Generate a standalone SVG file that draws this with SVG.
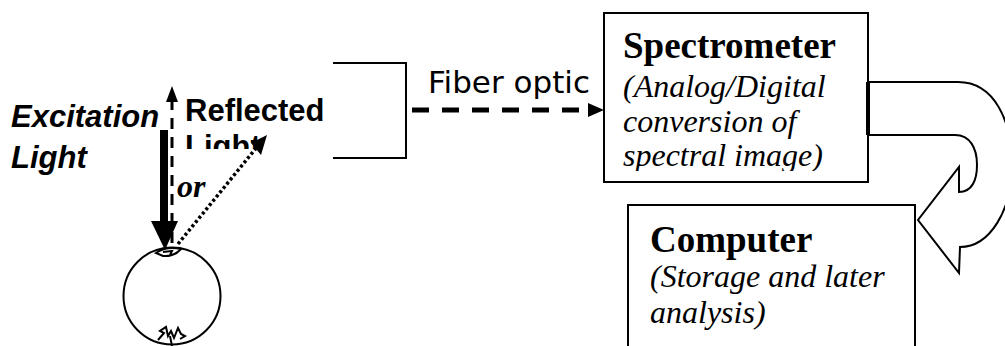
<svg xmlns="http://www.w3.org/2000/svg" width="1005" height="346" viewBox="0 0 1005 346">
<style>
.box{fill:#fff;stroke:#000;stroke-width:2}
.ln{fill:none;stroke:#000;stroke-width:2}
.sb{font-family:"Liberation Sans",Arial,sans-serif;font-weight:bold;font-size:31px}
.sbi{font-family:"Liberation Sans",Arial,sans-serif;font-weight:bold;font-style:italic;font-size:31px}
.tb{font-family:"Liberation Serif","Times New Roman",serif;font-weight:bold;font-size:37px}
.ti{font-family:"Liberation Serif","Times New Roman",serif;font-style:italic;font-size:32px}
.fo{font-family:"DejaVu Sans",Verdana,sans-serif;font-size:31px}
</style>
<defs>
<clipPath id="clipRefl"><rect x="180" y="80" width="160" height="69"/></clipPath>
<clipPath id="clipSpec"><rect x="604" y="13" width="264" height="158"/></clipPath>
</defs>
<g id="sample">
<circle cx="172" cy="296" r="48.5" class="ln"/>
<path d="M156 253 Q166 246 181 249 Q174 257 163 256 Z M163 252 L172 251 L170 255" fill="#fff" stroke="#000" stroke-width="2"/>
<path d="M158 340 L164 333 L160 331 L166 327 L168 336 L171 331 L174 338 L178 328 L181 334 L185 336 L180 339 M170 336 L172 346" fill="none" stroke="#000" stroke-width="2"/>
</g>
<g id="excitation">
<text class="sbi" x="11" y="127">Excitation</text>
<text class="sbi" x="11" y="168">Light</text>
</g>
<g id="reflected">
<text class="sb" x="185" y="121">Reflected</text>
<text class="sb" x="185" y="157" clip-path="url(#clipRefl)">Light</text>
<text x="177" y="197" font-family="'Liberation Serif','Times New Roman',serif" font-weight="bold" font-style="italic" font-size="32">or</text>
</g>
<g id="probe">
<path d="M333 63 H406 V158 H333" class="ln"/>
</g>
<g id="spectrometer">
<rect x="604" y="13" width="264" height="169" class="box"/>
<line x1="868" y1="82" x2="868" y2="135" stroke="#000" stroke-width="4"/>
<text class="tb" x="623" y="58">Spectrometer</text>
<g clip-path="url(#clipSpec)">
<text class="ti" x="623" y="97">(Analog/Digital</text>
<text class="ti" x="623" y="132">conversion of</text>
<text class="ti" x="623" y="166">spectral image)</text>
</g>
</g>
<g id="computer">
<rect x="628" y="205" width="287" height="160" class="box"/>
<text class="tb" x="650" y="252">Computer</text>
<text class="ti" x="650" y="287">(Storage and later</text>
<text class="ti" x="650" y="323">analysis)</text>
</g>
<g id="connectors">
<line x1="164" y1="130" x2="164" y2="224" stroke="#000" stroke-width="8"/>
<polygon points="151,221 178,221 165,250" fill="#000"/>
<line x1="172" y1="243" x2="172" y2="100" stroke="#000" stroke-width="3" stroke-dasharray="11 8"/>
<polygon points="166,102 178,102 172,86" fill="#000"/>
<line x1="178" y1="244" x2="257" y2="147" stroke="#000" stroke-width="3.5" stroke-dasharray="3 2.5"/>
<polygon points="267,135 251,143 261,155" fill="#000"/>
<line x1="412" y1="110" x2="590" y2="110" stroke="#000" stroke-width="5" stroke-dasharray="17 13"/>
<polygon points="588,103 604,110 588,117" fill="#000"/>
<text class="fo" x="428" y="93">Fiber optic</text>
<path d="M868 82 L958 82 C995 82 1012 122 1012 165 C1012 210 990 247 960 247 L959 273 L918 220 L959 167 L959 192 C972 192 977 180 977 165 C977 148 970 135 955 135 L868 135" class="ln"/>
</g>
</svg>
